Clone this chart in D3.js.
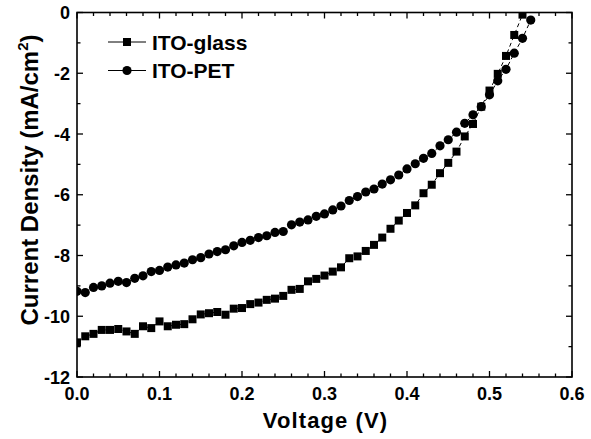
<!DOCTYPE html>
<html>
<head>
<meta charset="utf-8">
<script src="https://cdn.jsdelivr.net/npm/d3@7"></script>
<style>
  html, body { margin: 0; padding: 0; background: #fff; }
  svg { display: block; font-family: "Liberation Sans", Arial, sans-serif; font-weight: bold; }
</style>
</head>
<body>
<svg id="chart" width="591" height="439"></svg>
<script>
// J-V curves of the devices on ITO-glass and ITO-PET substrates
const voltageGlass = d3.range(0, 55).map(i => i / 100);
const currentGlass = [
  -10.86, -10.66, -10.58, -10.45, -10.45, -10.42, -10.50, -10.58, -10.33, -10.39,
  -10.17, -10.33, -10.28, -10.26, -10.10, -9.94, -9.90, -9.86, -9.95, -9.75,
  -9.73, -9.60, -9.55, -9.46, -9.42, -9.33, -9.13, -9.10, -8.85, -8.77,
  -8.66, -8.53, -8.39, -8.09, -8.03, -7.85, -7.65, -7.41, -7.12, -6.85,
  -6.60, -6.35, -5.95, -5.67, -5.29, -4.95, -4.58, -4.08, -3.67, -3.10,
  -2.57, -2.02, -1.43, -0.74, -0.07
];
const voltagePET = d3.range(0, 56).map(i => i / 100);
const currentPET = [
  -9.18, -9.22, -9.05, -9.00, -8.91, -8.85, -8.89, -8.75, -8.67, -8.53,
  -8.49, -8.38, -8.31, -8.25, -8.14, -8.07, -7.95, -7.87, -7.81, -7.68,
  -7.57, -7.50, -7.41, -7.35, -7.24, -7.21, -6.99, -6.90, -6.83, -6.71,
  -6.63, -6.50, -6.37, -6.19, -6.06, -5.91, -5.81, -5.65, -5.51, -5.35,
  -5.15, -4.98, -4.80, -4.64, -4.39, -4.19, -3.94, -3.65, -3.37, -3.10,
  -2.71, -2.25, -1.87, -1.34, -0.85, -0.25
];
const seriesNames = ["ITO-glass", "ITO-PET"];
const xTicks = [0, 0.1, 0.2, 0.3, 0.4, 0.5, 0.6];
const yTicks = [0, -2, -4, -6, -8, -10, -12];

const svg = d3.select("#chart");
const pLeft = 77, pRight = 572, pTop = 12.5, pBottom = 377;

const x = d3.scaleLinear().domain([0, 0.6]).range([pLeft, pRight]);
const y = d3.scaleLinear().domain([-12, 0]).range([pBottom, pTop]);

// clip markers to the plotting frame
svg.append("clipPath").attr("id", "plotClip")
  .append("rect").attr("x", pLeft).attr("y", pTop)
  .attr("width", pRight - pLeft).attr("height", pBottom - pTop);

const plot = svg.append("g").attr("clip-path", "url(#plotClip)");

const series = [
  { name: seriesNames[0], vx: voltageGlass, vy: currentGlass, shape: "square" },
  { name: seriesNames[1], vx: voltagePET, vy: currentPET, shape: "circle" }
];

const line = d3.line().x(d => x(d[0])).y(d => y(d[1]));

function drawMarker(g, shape, cx, cy) {
  if (shape === "square") {
    g.append("rect").attr("x", cx - 4).attr("y", cy - 4)
      .attr("width", 8).attr("height", 8).attr("fill", "#000");
  } else {
    g.append("circle").attr("cx", cx).attr("cy", cy).attr("r", 4.6).attr("fill", "#000");
  }
}

series.forEach(s => {
  const pts = s.vx.map((v, i) => [v, s.vy[i]]);
  plot.append("path").datum(pts)
    .attr("d", line)
    .attr("fill", "none")
    .attr("stroke", "#000")
    .attr("stroke-width", 1)
    .attr("stroke-dasharray", "4,3");
  const g = plot.append("g");
  pts.forEach(p => drawMarker(g, s.shape, x(p[0]), y(p[1])));
});

// axes with inward ticks on all four sides
const fmtX = d3.format(".1f");
const xMinor = d3.range(0, 0.6001, 0.02);
const yMinor = d3.range(-12, 0.001, 1);

function ticksX(yPos, dir, withLabels) {
  const g = svg.append("g");
  xMinor.forEach(v => {
    const major = Math.abs(Math.round(v * 10) - v * 10) < 1e-6;
    const len = major ? 6 : 3.5;
    g.append("line").attr("x1", x(v)).attr("x2", x(v))
      .attr("y1", yPos).attr("y2", yPos + dir * len)
      .attr("stroke", "#000").attr("stroke-width", 1.3);
  });
  if (withLabels) {
    xTicks.forEach(v => {
      g.append("text").attr("x", x(v)).attr("y", 400)
        .attr("text-anchor", "middle").attr("font-size", 18).text(fmtX(v));
    });
  }
}
function ticksY(xPos, dir, withLabels) {
  const g = svg.append("g");
  yMinor.forEach(v => {
    const major = v % 2 === 0;
    const len = major ? 6 : 3.5;
    g.append("line").attr("y1", y(v)).attr("y2", y(v))
      .attr("x1", xPos).attr("x2", xPos + dir * len)
      .attr("stroke", "#000").attr("stroke-width", 1.3);
  });
  if (withLabels) {
    yTicks.forEach(v => {
      g.append("text").attr("x", pLeft - 7).attr("y", y(v) + 6.5)
        .attr("text-anchor", "end").attr("font-size", 18).text(v);
    });
  }
}
ticksX(pBottom, -1, true);
ticksX(pTop, 1, false);
ticksY(pLeft, 1, true);
ticksY(pRight, -1, false);

svg.append("rect").attr("x", pLeft).attr("y", pTop)
  .attr("width", pRight - pLeft).attr("height", pBottom - pTop)
  .attr("fill", "none").attr("stroke", "#000").attr("stroke-width", 1.6);

// axis titles
svg.append("text").attr("x", (pLeft + pRight) / 2 + 1).attr("y", 428)
  .attr("text-anchor", "middle").attr("font-size", 22)
  .attr("letter-spacing", 1.1).text("Voltage (V)");

const yt = svg.append("text")
  .attr("transform", "translate(38,180) rotate(-90)")
  .attr("text-anchor", "middle").attr("font-size", 24);
yt.append("tspan").text("Current Density (mA/cm");
yt.append("tspan").attr("dy", -10).attr("font-size", 15).text("2");
yt.append("tspan").attr("dy", 10).text(")");

// legend
const legend = svg.append("g");
series.forEach((s, i) => {
  const ly = 42 + i * 28.5;
  legend.append("line").attr("x1", 108).attr("x2", 146)
    .attr("y1", ly).attr("y2", ly).attr("stroke", "#000").attr("stroke-width", 1);
  drawMarker(legend, s.shape, 127, ly);
  legend.append("text").attr("x", 152).attr("y", ly + 7.5)
    .attr("font-size", 21).text(s.name);
});
</script>
</body>
</html>
